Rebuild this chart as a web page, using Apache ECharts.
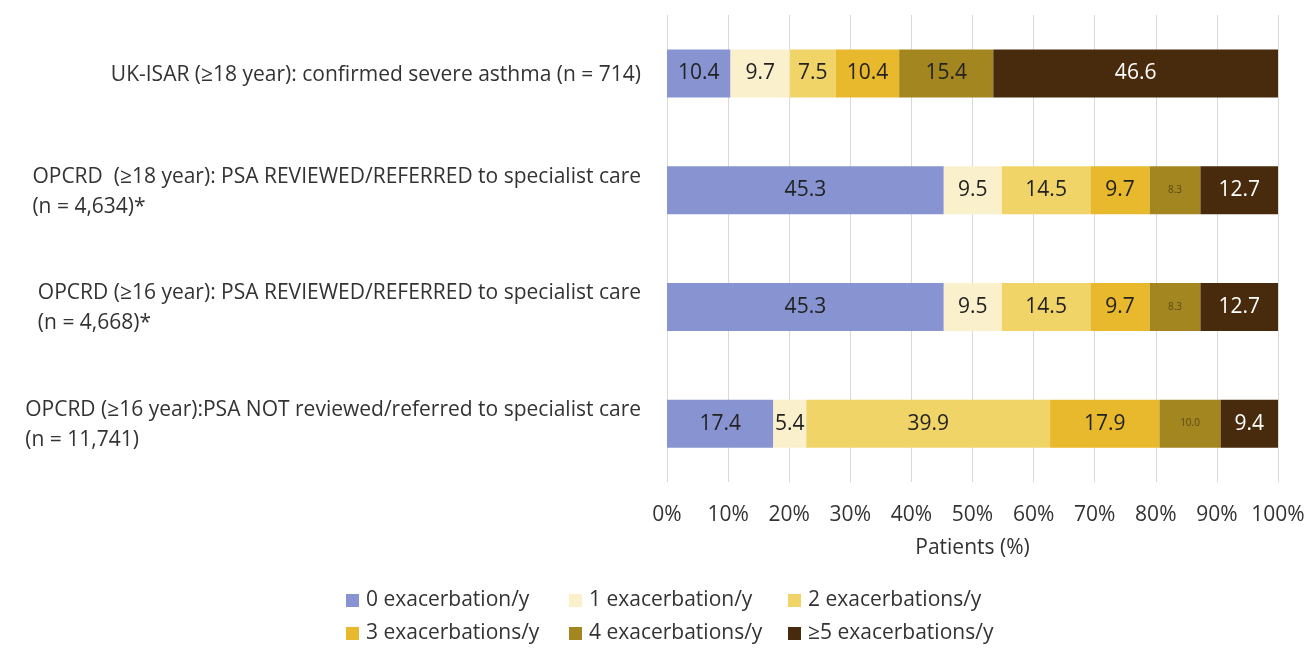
<!DOCTYPE html>
<html><head><meta charset="utf-8">
<script src="https://cdn.jsdelivr.net/npm/echarts@6/dist/echarts.min.js"></script>
<style>html,body{margin:0;padding:0;background:#fff}#c{width:1309px;height:648px}</style>
</head><body><div id="c"></div>
<script>
const categories = [
  ['UK-ISAR (≥18 year): confirmed severe asthma (n = 714)'],
  ['OPCRD  (≥18 year): PSA REVIEWED/REFERRED to specialist care', '(n = 4,634)*'],
  ['OPCRD (≥16 year): PSA REVIEWED/REFERRED to specialist care', '(n = 4,668)*'],
  ['OPCRD (≥16 year):PSA NOT reviewed/referred to specialist care', '(n = 11,741)']
];
const seriesNames = ['0 exacerbation/y','1 exacerbation/y','2 exacerbations/y','3 exacerbations/y','4 exacerbations/y','≥5 exacerbations/y'];
const s0 = [10.4, 45.3, 45.3, 17.4];
const s1 = [9.7, 9.5, 9.5, 5.4];
const s2 = [7.5, 14.5, 14.5, 39.9];
const s3 = [10.4, 9.7, 9.7, 17.9];
const s4 = [15.4, 8.3, 8.3, 10.0];
const s5 = [46.6, 12.7, 12.7, 9.4];
const xTicks = ['0%','10%','20%','30%','40%','50%','60%','70%','80%','90%','100%'];

const colors = ['#8794D1','#FAF1CC','#F0D468','#E8B92C','#A3861F','#482A0D'];
const FONT = 'Open Sans';
const values = [s0,s1,s2,s3,s4,s5];
const smallLabel = [[false,false,false,false],[false,false,false,false],[false,false,false,false],[false,false,false,false],[false,true,true,true],[false,false,false,false]];

// legend layout: column x of each entry, row top
const legendCols = [346, 569, 788];
const legendRows = [590, 623];

const chart = echarts.init(document.getElementById('c'), null, {renderer:'canvas'});
const series = values.map((arr, si) => ({
  name: seriesNames[si],
  type: 'bar',
  stack: 'total',
  barWidth: 48,
  itemStyle: {color: colors[si]},
  emphasis: {disabled: true},
  data: arr.map((v, ci) => ({
    value: v,
    label: {
      show: true,
      position: 'inside',
      fontFamily: FONT,
      fontSize: smallLabel[si][ci] ? 10 : 21,
      color: si === 5 ? '#ffffff' : (smallLabel[si][ci] ? '#5a4a1a' : '#222222'),
      formatter: () => v.toFixed(1)
    }
  }))
}));

const legends = seriesNames.map((n, i) => ({
  data: [n],
  left: legendCols[i % 3],
  top: legendRows[Math.floor(i / 3)],
  padding: 0,
  itemWidth: 13, itemHeight: 13,
  icon: 'rect',
  textStyle: {fontFamily: FONT, fontSize: 21, color: '#333', padding: [0, 0, 0, 2]}
}));

chart.setOption({
  animation: false,
  textStyle: {fontFamily: FONT},
  grid: {left: 667, right: 31, top: 15, bottom: 166, containLabel: false},
  xAxis: {
    type: 'value', min: 0, max: 100, interval: 10,
    axisLine: {show: false}, axisTick: {show: false},
    splitLine: {show: true, lineStyle: {color: '#d9d9d9', width: 1}},
    axisLabel: {
      formatter: (v) => xTicks[Math.round(v / 10)],
      fontFamily: FONT, fontSize: 21, color: '#333', margin: 23
    },
    name: 'Patients (%)', nameLocation: 'middle', nameGap: 56,
    nameTextStyle: {fontFamily: FONT, fontSize: 21, color: '#333'}
  },
  yAxis: {
    type: 'category', inverse: true,
    data: categories.map(c => c.join('\n')),
    axisLine: {show: false}, axisTick: {show: false},
    axisLabel: {
      margin: 26,
      fontFamily: FONT,
      formatter: (val) => val.split('\n').map(l => '{a|' + l + '}').join('\n'),
      rich: {a: {fontFamily: FONT, fontSize: 21, color: '#333', lineHeight: 30, align: 'left', padding: [3, 0, 0, 0]}}
    }
  },
  legend: legends,
  series: series
});
</script></body></html>
